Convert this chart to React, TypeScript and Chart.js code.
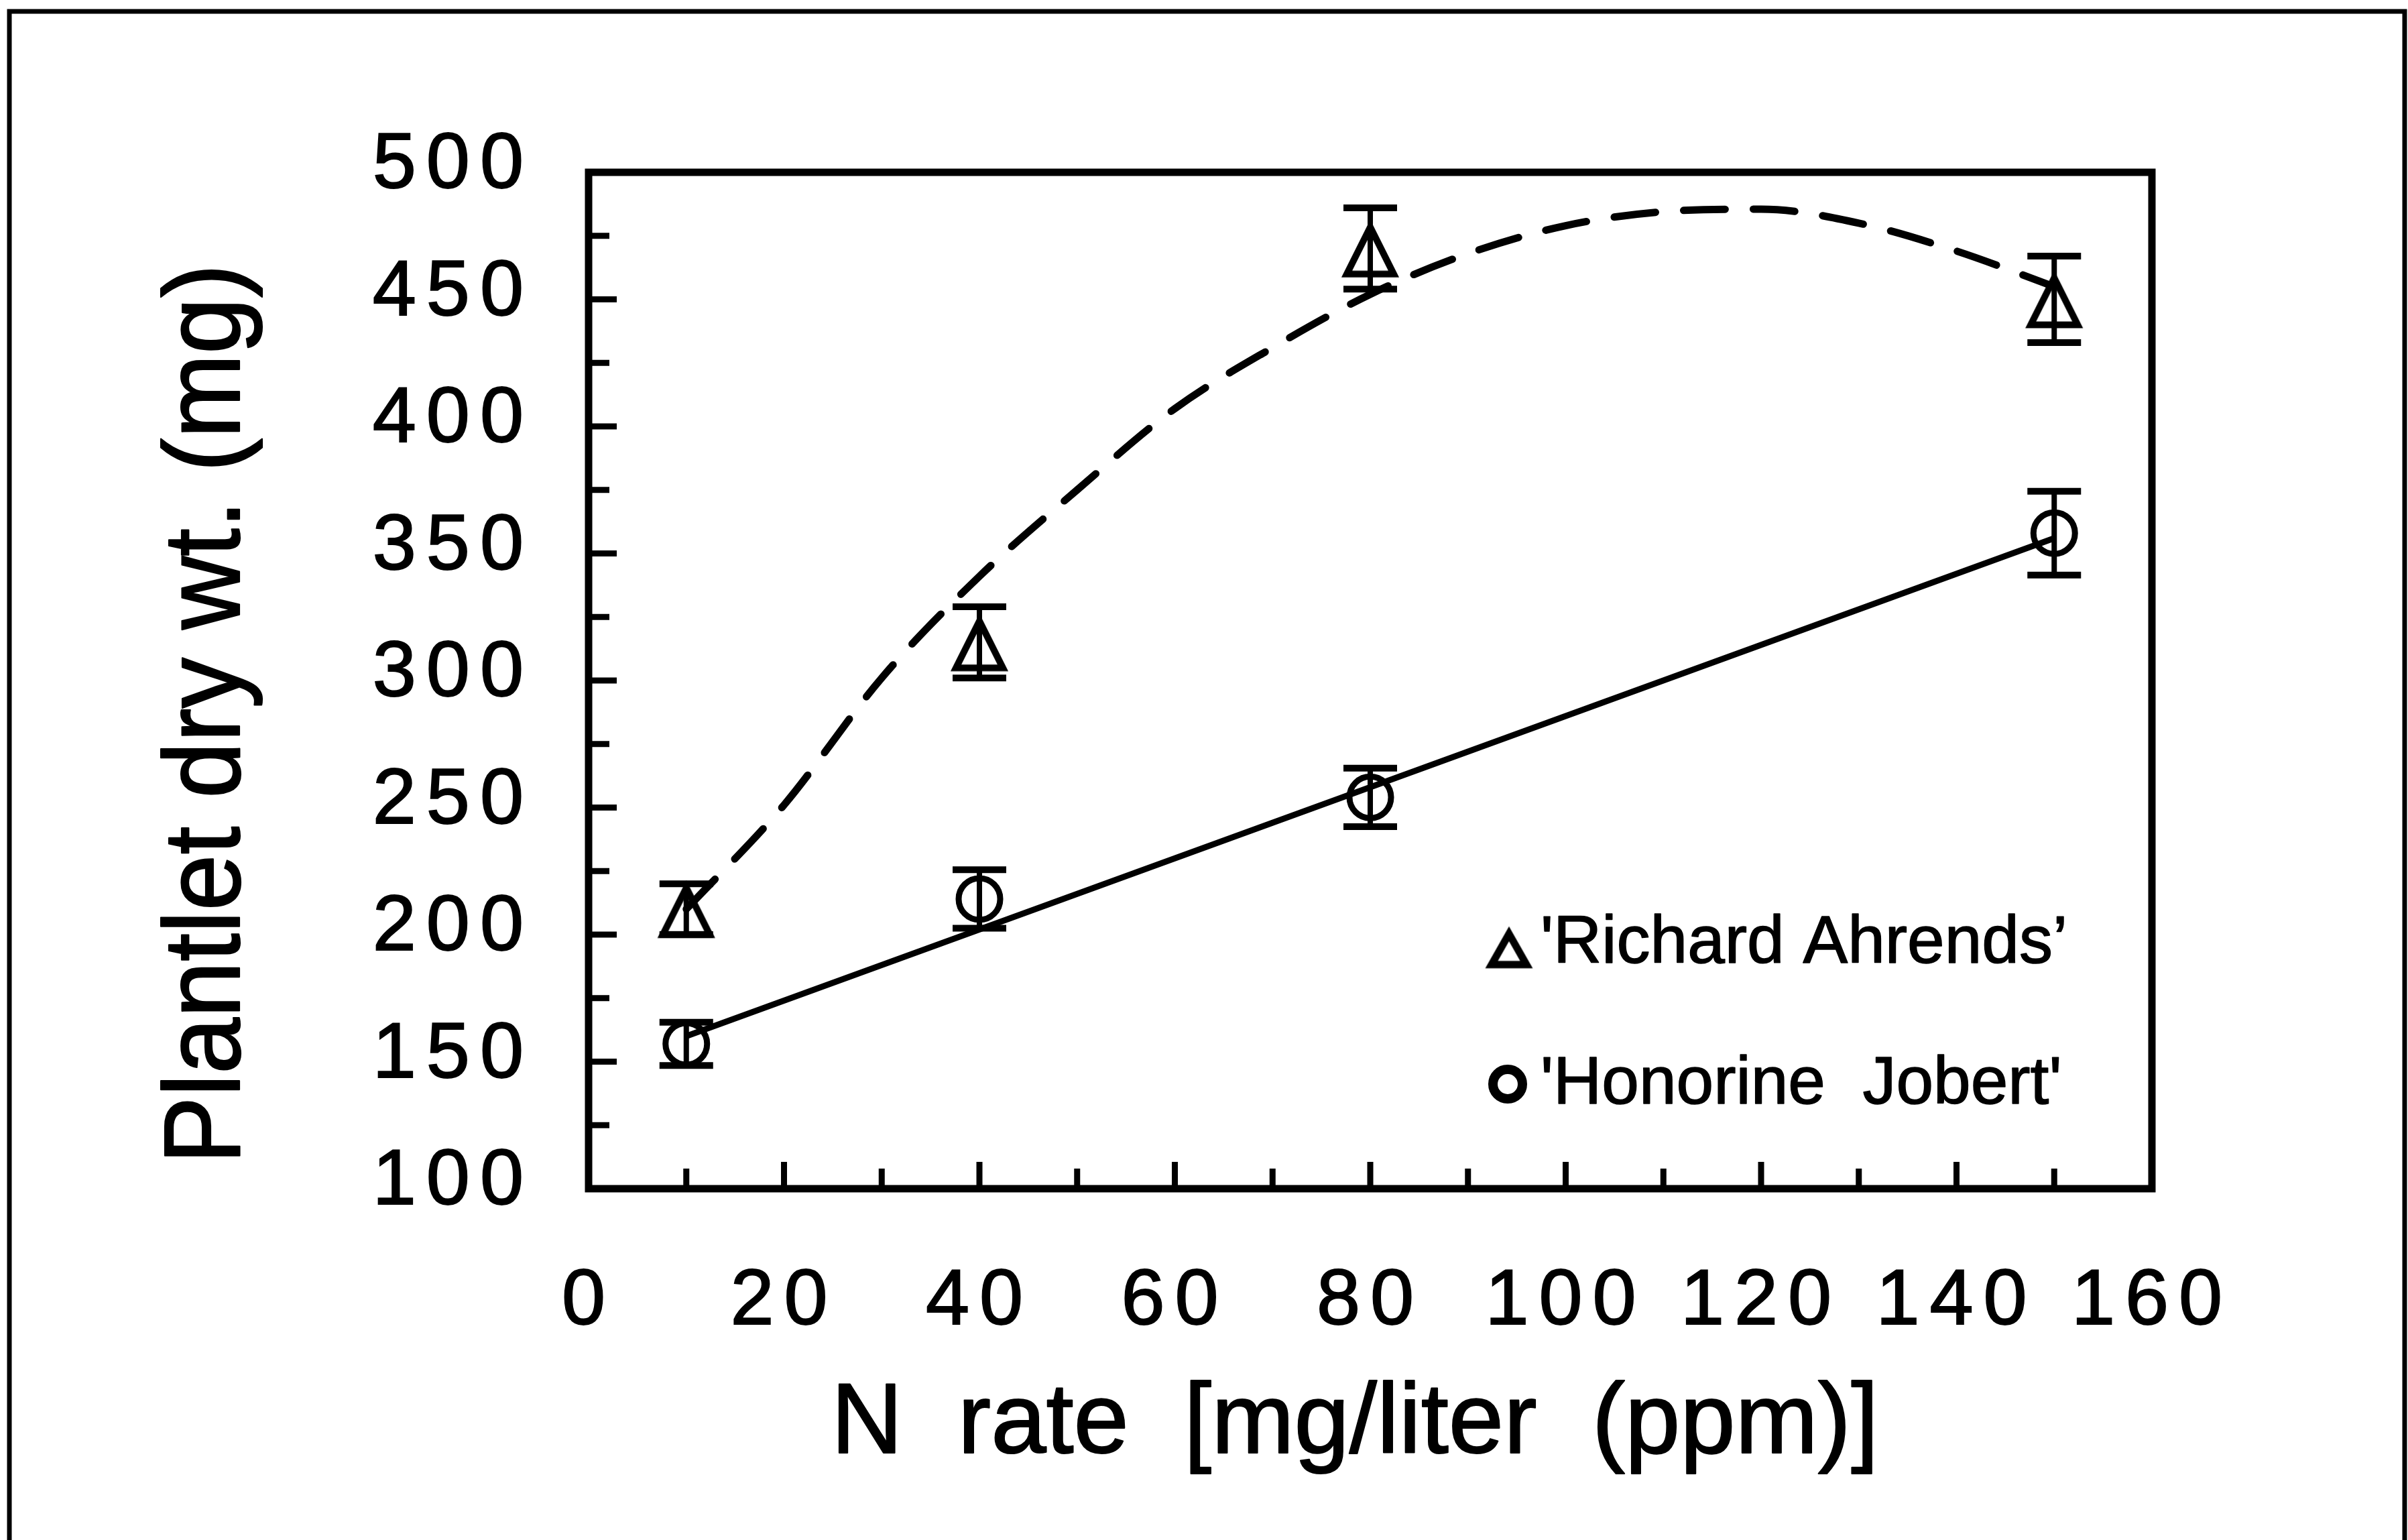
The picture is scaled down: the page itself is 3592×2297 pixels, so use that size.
import React, { useEffect, useRef } from 'react';
import { Chart, registerables } from 'chart.js';

Chart.register(...registerables);

// ---------- data ----------
const nRates = [10, 40, 80, 150];
const richardMean = [210, 315, 470, 450];
const richardErr = [10, 14, 16, 17];
const honorineMean = [157, 214, 254, 358];
const honorineErr = [8.5, 11.5, 11.5, 16.5];

const richardFitX = [10, 20, 30, 40, 50, 60, 70, 80, 90, 100, 110, 120, 130, 140, 150];
const richardFitY = [210, 251, 301, 341, 375, 407, 431, 452, 468, 479, 484.5, 485.5, 480, 469, 455];

const honorineFitX = [10, 150];
const honorineFitY = [160, 356];

const seriesLabels = ["'Richard Ahrends\u2019", "'Honorine  Jobert'"];
const xTitle = 'N  rate  [mg/liter  (ppm)]';
const yTitle = 'Plantlet dry wt. (mg)';

const xMin = 0;
const xMax = 160;
const xStep = 10;
const xLabelEvery = 20;
const yMin = 100;
const yMax = 500;
const yStep = 25;
const yLabelEvery = 50;

// ---------- layout ----------
const W = 3592;
const H = 2297;
const PLOT_LEFT = 878;
const PLOT_RIGHT = 3210;
const PLOT_TOP = 257;
const PLOT_BOTTOM = 1773;
const FONT = "'Liberation Sans', Arial, Helvetica, sans-serif";

function makeTriangle(w: number, h: number, lw: number): HTMLCanvasElement {
  const alpha = Math.atan(w / 2 / h);
  const eTop = lw / 2 / Math.sin(alpha);
  const cw = Math.ceil(w + lw * 3 + 8);
  const ch = Math.ceil(h + eTop + lw / 2 + 10);
  const c = document.createElement('canvas');
  c.width = cw;
  c.height = ch;
  const g = c.getContext('2d')!;
  const apexY = (ch - h + eTop - lw / 2) / 2;
  const cx = cw / 2;
  g.strokeStyle = '#000';
  g.lineWidth = lw;
  g.lineJoin = 'miter';
  g.miterLimit = 10;
  g.beginPath();
  g.moveTo(cx, apexY);
  g.lineTo(cx + w / 2, apexY + h);
  g.lineTo(cx - w / 2, apexY + h);
  g.closePath();
  g.stroke();
  return c;
}

function boldText(ctx: CanvasRenderingContext2D, text: string, x: number, y: number, sw: number) {
  ctx.lineWidth = sw;
  ctx.lineJoin = 'round';
  ctx.strokeStyle = '#000';
  ctx.strokeText(text, x, y);
  ctx.fillText(text, x, y);
}

export default function App() {
  const ref = useRef<HTMLCanvasElement>(null);

  useEffect(() => {
    document.body.style.margin = '0';
    document.body.style.overflow = 'hidden';
    const triMarker = makeTriangle(70, 70, 10);
    const triLegend = makeTriangle(52, 46, 11);

    const errSeries = [
      { x: nRates, mean: richardMean, err: richardErr },
      { x: nRates, mean: honorineMean, err: honorineErr },
    ];

    const decor = {
      id: 'decor',
      beforeDraw(chart: any) {
        const ctx = chart.ctx;
        ctx.save();
        ctx.fillStyle = '#fff';
        ctx.fillRect(0, 0, chart.width, chart.height);
        ctx.strokeStyle = '#000';
        ctx.lineWidth = 7;
        ctx.beginPath();
        ctx.moveTo(14, chart.height + 20);
        ctx.lineTo(14, 17);
        ctx.lineTo(3587, 17);
        ctx.lineTo(3587, chart.height + 20);
        ctx.stroke();
        ctx.restore();
        ctx.letterSpacing = '15px';
      },
      beforeDatasetsDraw(chart: any) {
        const ctx = chart.ctx;
        ctx.letterSpacing = '0px';
        const { left, right, top, bottom } = chart.chartArea;
        const xs = chart.scales.x;
        const ys = chart.scales.y;
        ctx.save();
        ctx.strokeStyle = '#000';
        ctx.lineCap = 'butt';
        // inside ticks
        ctx.lineWidth = 9;
        ctx.beginPath();
        xs.ticks.forEach((t: any) => {
          if (t.value <= xMin || t.value >= xMax) return;
          const px = xs.getPixelForValue(t.value);
          const len = t.value % xLabelEvery === 0 ? 40 : 30;
          ctx.moveTo(px, bottom);
          ctx.lineTo(px, bottom - len);
        });
        ys.ticks.forEach((t: any) => {
          if (t.value <= yMin || t.value >= yMax) return;
          const py = ys.getPixelForValue(t.value);
          const len = t.value % yLabelEvery === 0 ? 42 : 31;
          ctx.moveTo(left, py);
          ctx.lineTo(left + len, py);
        });
        ctx.stroke();
        // frame
        ctx.lineWidth = 11;
        ctx.lineJoin = 'miter';
        ctx.strokeRect(left, top, right - left, bottom - top);
        ctx.restore();
      },
      afterDatasetsDraw(chart: any) {
        const ctx = chart.ctx;
        const xs = chart.scales.x;
        const ys = chart.scales.y;
        ctx.save();
        ctx.strokeStyle = '#000';
        errSeries.forEach((s) => {
          s.x.forEach((xv, i) => {
            const px = xs.getPixelForValue(xv);
            const pt = ys.getPixelForValue(s.mean[i] + s.err[i]);
            const pb = ys.getPixelForValue(s.mean[i] - s.err[i]);
            ctx.lineWidth = 8;
            ctx.beginPath();
            ctx.moveTo(px, pt);
            ctx.lineTo(px, pb);
            ctx.stroke();
            ctx.lineWidth = 10;
            ctx.beginPath();
            ctx.moveTo(px - 40, pt);
            ctx.lineTo(px + 40, pt);
            ctx.moveTo(px - 40, pb);
            ctx.lineTo(px + 40, pb);
            ctx.stroke();
          });
        });
        ctx.restore();
      },
      afterDraw(chart: any) {
        const ctx = chart.ctx;
        ctx.letterSpacing = '0px';
        const { left, right, top, bottom } = chart.chartArea;
        ctx.save();
        ctx.fillStyle = '#000';
        // x title
        ctx.font = `148px ${FONT}`;
        ctx.textAlign = 'center';
        ctx.textBaseline = 'alphabetic';
        boldText(ctx, xTitle, (left + right) / 2 - 23, bottom + 394, 2);
        // y title
        ctx.save();
        ctx.translate(left - 521, (top + bottom) / 2 + 50);
        ctx.rotate(-Math.PI / 2);
        ctx.scale(1, 1.07);
        ctx.font = `151px ${FONT}`;
        ctx.textAlign = 'center';
        ctx.textBaseline = 'alphabetic';
        boldText(ctx, yTitle, 0, 0, 2);
        ctx.restore();
        // legend
        ctx.font = `100px ${FONT}`;
        ctx.textAlign = 'left';
        ctx.textBaseline = 'alphabetic';
        ctx.drawImage(triLegend, 2251 - triLegend.width / 2, 1413 - triLegend.height / 2);
        boldText(ctx, chart.data.datasets[0].label, 2298, 1436, 1.5);
        ctx.lineWidth = 14;
        ctx.strokeStyle = '#000';
        ctx.beginPath();
        ctx.arc(2249, 1617, 22, 0, Math.PI * 2);
        ctx.stroke();
        boldText(ctx, chart.data.datasets[1].label, 2298, 1646, 1.5);
        ctx.restore();
      },
    };

    const tickFont = { family: FONT, size: 117 };

    const chart = new Chart(ref.current!, {
      type: 'scatter',
      data: {
        datasets: [
          {
            label: seriesLabels[0],
            data: nRates.map((x, i) => ({ x, y: richardMean[i] })),
            pointStyle: triMarker as any,
            pointRadius: 40,
            borderColor: '#000',
            backgroundColor: 'rgba(0,0,0,0)',
            showLine: false,
          },
          {
            label: seriesLabels[1],
            data: nRates.map((x, i) => ({ x, y: honorineMean[i] })),
            pointStyle: 'circle',
            pointRadius: 31,
            pointBorderWidth: 9,
            borderColor: '#000',
            pointBorderColor: '#000',
            backgroundColor: 'rgba(0,0,0,0)',
            pointBackgroundColor: 'rgba(0,0,0,0)',
            showLine: false,
          },
          {
            label: 'Richard fit',
            data: richardFitX.map((x, i) => ({ x, y: richardFitY[i] })),
            showLine: true,
            borderColor: '#000',
            borderWidth: 11,
            borderDash: [62, 42],
            borderCapStyle: 'round',
            cubicInterpolationMode: 'monotone',
            pointRadius: 0,
            fill: false,
          },
          {
            label: 'Honorine fit',
            data: honorineFitX.map((x, i) => ({ x, y: honorineFitY[i] })),
            showLine: true,
            borderColor: '#000',
            borderWidth: 9,
            pointRadius: 0,
            fill: false,
          },
        ],
      } as any,
      options: {
        animation: false,
        responsive: false,
        devicePixelRatio: 1,
        events: [],
        layout: { padding: { left: 0, top: PLOT_TOP, right: W - PLOT_RIGHT, bottom: 0 } },
        plugins: { legend: { display: false }, tooltip: { enabled: false } },
        scales: {
          x: {
            type: 'linear',
            position: 'bottom',
            min: xMin,
            max: xMax,
            grid: { display: false, drawTicks: false, tickLength: 0 },
            border: { display: false },
            ticks: {
              stepSize: xStep,
              autoSkip: false,
              maxRotation: 0,
              minRotation: 0,
              padding: 100,
              color: '#000',
              textStrokeColor: '#000',
              textStrokeWidth: 2,
              font: tickFont,
              callback: (v: any) => (Number(v) % xLabelEvery === 0 ? String(v) : ''),
            },
            afterFit: (s: any) => {
              s.height = H - PLOT_BOTTOM;
            },
          },
          y: {
            type: 'linear',
            min: yMin,
            max: yMax,
            grid: { display: false, drawTicks: false, tickLength: 0 },
            border: { display: false },
            ticks: {
              stepSize: yStep,
              autoSkip: false,
              padding: 82,
              labelOffset: -9,
              color: '#000',
              textStrokeColor: '#000',
              textStrokeWidth: 2,
              font: tickFont,
              callback: (v: any) => (Number(v) % yLabelEvery === 0 ? String(v) : ''),
            },
            afterFit: (s: any) => {
              s.width = PLOT_LEFT;
            },
          },
        },
      } as any,
      plugins: [decor as any],
    });
    return () => chart.destroy();
  }, []);

  return (
    <div style={{ position: 'absolute', left: 0, top: 0, width: W, height: H, background: '#fff' }}>
      <canvas ref={ref} width={W} height={H} style={{ width: W, height: H, display: 'block' }} />
    </div>
  );
}
